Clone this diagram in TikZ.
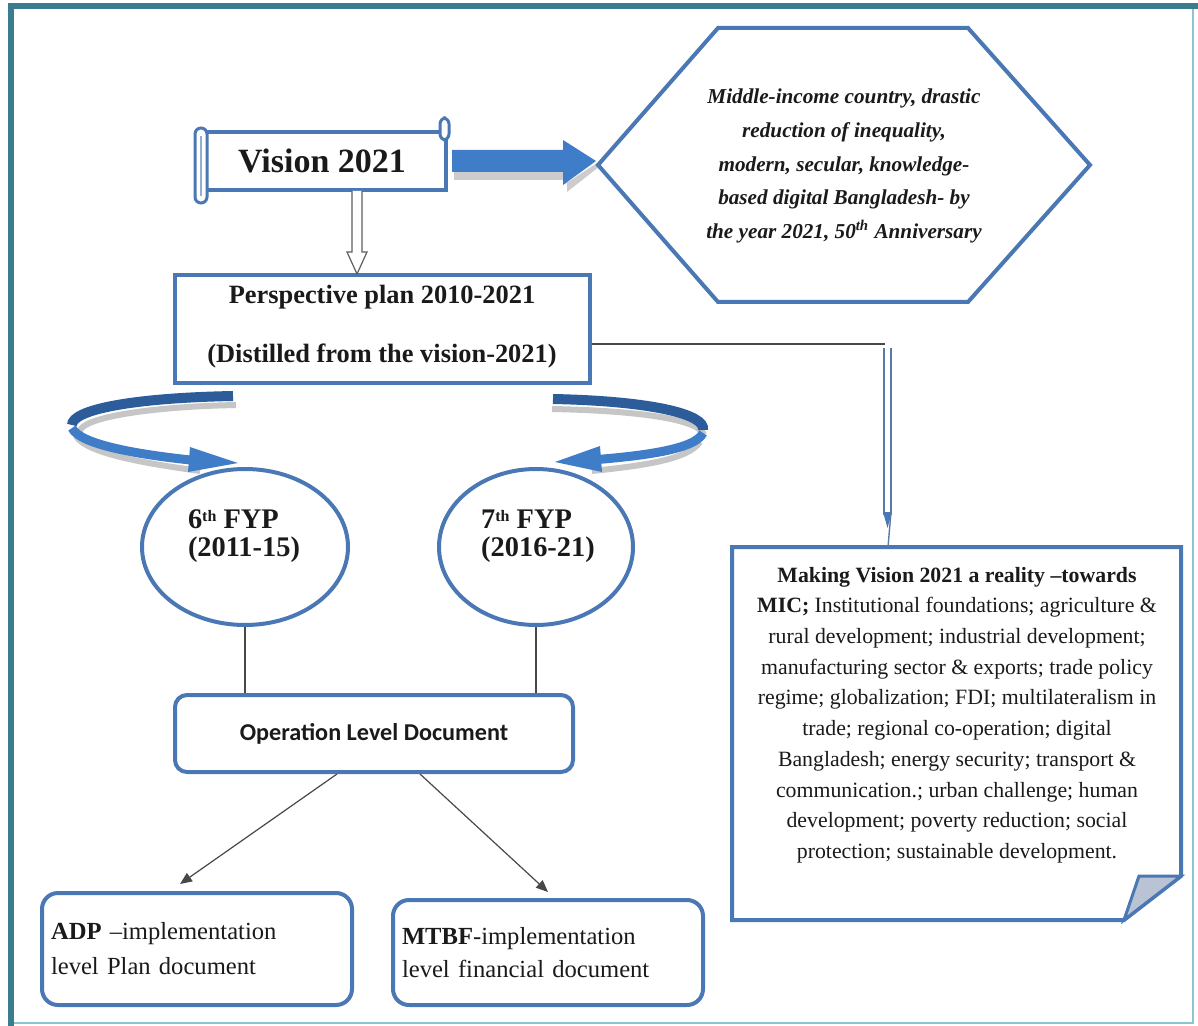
\documentclass[tikz,border=0pt]{standalone}
\usepackage{fontspec}
\setmainfont{Liberation Serif}
\newfontfamily\calibri{Carlito}
\usetikzlibrary{arrows.meta,calc,shapes.geometric}
\definecolor{boxblue}{HTML}{4A78B5}
\definecolor{arrowblue}{HTML}{3F7DC9}
\definecolor{darkblue}{HTML}{2C5C9A}
\definecolor{framedark}{HTML}{3B7C8E}
\definecolor{framelight}{HTML}{8CC4D4}
\definecolor{foldgray}{HTML}{B9C3D3}
\definecolor{txt}{HTML}{1A1A1A}
\begin{document}
\begin{tikzpicture}[x=0.5pt,y=-0.5pt,
  blueline/.style={draw=boxblue, line width=2pt},
  docbox/.style={blueline, rounded corners=8pt, fill=white, text=txt},
  conn/.style={draw=txt!80, line width=0.6pt},
  arrowtip/.style={conn, -{Triangle[length=6pt,width=5pt]}},
  ribbondark/.style={draw=darkblue, line width=4.5pt},
  ribbonlight/.style={draw=arrowblue, line width=4.5pt},
  ribbonshadow/.style={draw=gray!45, line width=3pt}]
\useasboundingbox (0,0) rectangle (1198,1026);
\fill[white] (0,0) rectangle (1198,1026);
% outer frame
\draw[framelight, line width=1pt] (1193,6) -- (1193,1023) -- (11,1023);
\draw[framedark, line width=3pt] (11,1026) -- (11,6) -- (1198,6);

% Vision scroll
\draw[blueline, fill=white] (205,132) rectangle (446,190);
\draw[draw=boxblue, line width=1.5pt, fill=white, rounded corners=3pt] (440,118) rectangle (449,140);
\draw[draw=boxblue, line width=1.5pt, fill=white, rounded corners=3pt] (195,128) rectangle (207,203);
\draw[boxblue!60, line width=0.6pt] (201,136) -- (201,196);
\node[font=\bfseries\fontsize{17}{20}\selectfont, text=txt] (vision) at (322,161) {Vision 2021};

% thick arrow vision -> hexagon
\fill[gray!40] (454,172) -- (565,172) -- (565,184) -- (597,163) -- (600,166) -- (567,192) -- (567,180) -- (454,180) -- cycle;
\fill[arrowblue] (452,150) -- (563,150) -- (563,140) -- (596,161) -- (563,185) -- (563,172) -- (452,172) -- cycle;

% hexagon
\coordinate (hexW) at (598,165);
\draw[blueline, fill=white] (hexW) -- (718,28) -- (968,28) -- (1090,165) -- (968,302) -- (718,302) -- cycle;
\node[font=\bfseries\itshape\fontsize{10.6}{16.9}\selectfont, align=center, text=txt] (hex) at (844,166)
  {Middle-income country, drastic\\ reduction of inequality,\\ modern, secular, knowledge-\\ based digital Bangladesh- by\\ the year 2021, 50\textsuperscript{th} Anniversary};

% perspective plan
\node[draw=boxblue, line width=2.3pt, minimum width=207.5pt, minimum height=54pt, fill=white] (persp) at (382.5,329) {};
\node[font=\bfseries\fontsize{13.2}{29.5}\selectfont, align=center, text=txt] (persptext) at (382,327)
  {Perspective plan 2010-2021\\ (Distilled from the vision-2021)};

% hollow arrow vision -> persp
\draw[draw=txt!70, fill=white, line width=0.6pt] (352,191) -- (352,252) -- (347,252) -- (357,274) -- (367,252) -- (362,252) -- (362,191);

% curved arrows
\draw[ribbonshadow] (236,405) .. controls (140,407) and (82,419) .. (80,431);
\draw[ribbondark, line width=5pt] (233,396) .. controls (130,398) and (72,410) .. (72,425);
\draw[ribbonshadow] (76,436) .. controls (86,454) and (150,464) .. (200,471);
\draw[ribbonlight] (72,428) .. controls (80,445) and (140,455) .. (200,461);
\fill[arrowblue] (190,447) -- (238,463) -- (188,472) -- cycle;

\draw[ribbonshadow] (552,409) .. controls (650,411) and (700,421) .. (704,435);
\draw[ribbondark, line width=5pt] (553,399) .. controls (650,401) and (706,414) .. (703,430);
\draw[ribbonshadow] (700,442) .. controls (688,460) and (640,466) .. (592,471);
\draw[ribbonlight] (703,433) .. controls (695,450) and (640,456) .. (592,460);
\fill[arrowblue] (600,446) -- (555,462) -- (602,472) -- cycle;

% FYP ellipses
\node[ellipse, blueline, minimum width=103pt, minimum height=78pt, fill=white] (fyp6) at (245,547) {};
\node[ellipse, blueline, minimum width=97pt, minimum height=78pt, fill=white] (fyp7) at (536,547) {};
\node[font=\bfseries\fontsize{14.2}{14}\selectfont, align=left, text=txt] (fyp6t) at (244,536) {6{\fontsize{8}{8}\selectfont\raisebox{0.45em}{th}} FYP\\(2011-15)};
\node[font=\bfseries\fontsize{14.2}{14}\selectfont, align=left, text=txt] (fyp7t) at (538,536) {7{\fontsize{8}{8}\selectfont\raisebox{0.45em}{th}} FYP\\(2016-21)};

% operation level
\node[docbox, minimum width=199pt, minimum height=38.5pt, rounded corners=6pt, font=\calibri\bfseries\fontsize{12.1}{14}\selectfont] (op) at (374,733.5) {Operation Level Document};
\draw[conn] (fyp6.south) -- (fyp6.south |- op.north);
\draw[conn] (fyp7.south) -- (fyp7.south |- op.north);

% bottom boxes
\node[docbox, minimum width=155pt, minimum height=56pt, text width=146pt, inner xsep=4.5pt, align=left, font=\fontsize{12.3}{17.5}\selectfont] (adp) at (197,949)
  {\textbf{ADP} --implementation\\ level Plan document};
\node[docbox, minimum width=155pt, minimum height=52.5pt, text width=146pt, inner xsep=4.5pt, align=left, font=\fontsize{12.3}{16.5}\selectfont] (mtbf) at (548,952.5)
  {\textbf{MTBF}-implementation\\ level financial document};
\coordinate (adptip) at (180,884);
\coordinate (mtbftip) at (548,892);
\draw[arrowtip] ($(op.south)+(-37,0)$) -- (adptip);
\draw[arrowtip] ($(op.south)+(46,0)$) -- (mtbftip);

% making vision box
\draw[blueline, fill=white] (732,547) -- (1181,547) -- (1181,876) -- (1124,920) -- (732,920) -- cycle;
\draw[draw=boxblue, line width=1.5pt, fill=foldgray] (1124,920) -- (1139,876) -- (1181,876) -- cycle;
\node[font=\fontsize{10.9}{15.35}\selectfont, align=center, text=txt] (making) at (957,715)
  {\textbf{Making Vision 2021 a reality --towards}\\
   \textbf{MIC;} Institutional foundations; agriculture \&\\
   rural development; industrial development;\\
   manufacturing sector \& exports; trade policy\\
   regime; globalization; FDI; multilateralism in\\
   trade; regional co-operation; digital\\
   Bangladesh; energy security; transport \&\\
   communication.; urban challenge; human\\
   development; poverty reduction; social\\
   protection; sustainable development.};

% persp -> making connector
\coordinate (turn) at (885,344);
\draw[conn] (persp.east |- turn) -- (turn);
\draw[draw=boxblue!70!gray, line width=0.7pt] (884,348) -- (884,515);
\draw[draw=boxblue!70!gray, line width=0.7pt] (891,348) -- (891,515);
\fill[boxblue] (883,512) -- (892,512) -- (887.5,528) -- cycle;
\draw[draw=boxblue!70!gray, line width=0.7pt] (891,512) -- (888,547);
\end{tikzpicture}
\end{document}
